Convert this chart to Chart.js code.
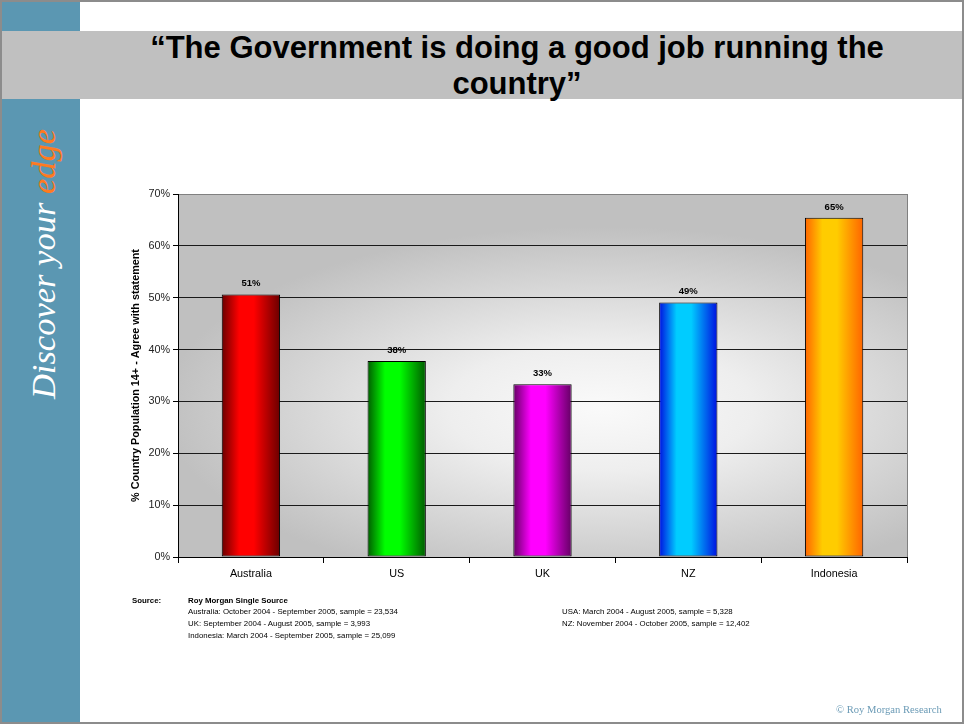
<!DOCTYPE html>
<html>
<head>
<meta charset="utf-8">
<script src="https://cdn.jsdelivr.net/npm/chart.js@4"></script>
<style>
  html, body { margin: 0; padding: 0; background: #fff; }
  #page {
    position: relative; width: 964px; height: 724px; overflow: hidden;
    box-sizing: border-box; border: 2px solid #8c8c8c; background: #fff;
    font-family: 'Liberation Sans', Arial, sans-serif;
  }
  #sidebar { position: absolute; left: 0; top: 0; width: 78px; height: 100%; background: #5b97b2; }
  #tagline {
    position: absolute; left: 41px; top: 262px; white-space: nowrap;
    transform: translate(-50%, -50%) rotate(-90deg);
    font-family: 'Liberation Serif', 'Times New Roman', serif; font-style: italic;
    font-size: 34.5px; color: #fff;
  }
  #tagline span { color: #ff7a21; }
  #band {
    position: absolute; left: 0; top: 29px; width: 100%; height: 68px; background: #c0c0c0;
  }
  #title {
    position: absolute; left: 78px; right: 8px; top: 28px; text-align center;
    text-align: center; font-weight: bold; font-size: 31px; line-height: 36px; color: #000;
  }
  canvas { position: absolute; left: -2px; top: -2px; }
  .src { position: absolute; font-size: 7.85px; color: #000; white-space: nowrap; line-height: 10px; }
  .b { font-weight: bold; }
  #copy {
    position: absolute; left: 834px; top: 702px; font-family: 'Liberation Serif', 'Times New Roman', serif;
    font-size: 10.6px; color: #6b9bb6; white-space: nowrap;
  }
</style>
</head>
<body>
<div id="page">
  <div id="sidebar"></div>
  <div id="tagline">Discover your <span>edge</span></div>
  <div id="band"></div>
  <div id="title">“The Government is doing a good job running the<br>country”</div>
  <canvas id="govChart" width="964" height="724"></canvas>

  <div class="src b" style="left:130px; top:594px;">Source:</div>
  <div class="src b" style="left:186px; top:594px;">Roy Morgan Single Source</div>
  <div class="src" style="left:186px; top:605px;">Australia: October 2004 - September 2005, sample = 23,534</div>
  <div class="src" style="left:186px; top:617px;">UK: September 2004 - August 2005, sample = 3,993</div>
  <div class="src" style="left:186px; top:629px;">Indonesia: March 2004 - September 2005, sample = 25,099</div>
  <div class="src" style="left:560px; top:605px;">USA: March 2004 - August 2005, sample = 5,328</div>
  <div class="src" style="left:560px; top:617px;">NZ: November 2004 - October 2005, sample = 12,402</div>

  <div id="copy">© Roy Morgan Research</div>
</div>

<script>
const categories = ['Australia', 'US', 'UK', 'NZ', 'Indonesia'];
const agreeShare = [50.6, 37.8, 33.3, 49.1, 65.4];
const yTickLabels = ['0%', '10%', '20%', '30%', '40%', '50%', '60%', '70%'];

// each bar is shaded dark edge -> bright core -> dark edge
const barEdge = ['#6a0000', '#005c00', '#640064', '#0010e0', '#ff6400'];
const barCore = ['#ff0000', '#00ff00', '#ff00ff', '#00ccff', '#ffcc00'];

const FONT = "'Liberation Sans', Arial, sans-serif";
const BAR_FRACTION = 0.4;

function barFill(ctx) {
  const chart = ctx.chart;
  const i = ctx.dataIndex;
  const xs = chart.scales.x;
  if (!chart.chartArea || !xs || i === undefined) return barCore[i] || '#888';
  const cx = xs.getPixelForValue(i);
  const half = (xs.width / categories.length) * BAR_FRACTION / 2;
  const g = chart.ctx.createLinearGradient(cx - half, 0, cx + half, 0);
  g.addColorStop(0, barEdge[i]);
  g.addColorStop(0.3, barCore[i]);
  g.addColorStop(0.55, barCore[i]);
  g.addColorStop(1, barEdge[i]);
  return g;
}

// soft radial wash behind the plot, grey towards the edges
const plotBackdrop = {
  id: 'plotBackdrop',
  beforeDraw(chart) {
    const { ctx, chartArea: a } = chart;
    const w = a.right - a.left, h = a.bottom - a.top;
    const cx = a.left + w * 0.58, cy = a.top + h * 0.59;
    const rx = w * 0.6, ry = h * 0.5;
    const sy = ry / rx;
    ctx.save();
    ctx.fillStyle = '#c0c0c0';
    ctx.fillRect(a.left, a.top, w, h);
    ctx.beginPath();
    ctx.rect(a.left, a.top, w, h);
    ctx.clip();
    ctx.translate(cx, cy);
    ctx.scale(1, sy);
    const g = ctx.createRadialGradient(0, 0, 0, 0, 0, rx);
    g.addColorStop(0, '#fafafa');
    g.addColorStop(0.35, '#eeeeee');
    g.addColorStop(1, '#c0c0c0');
    ctx.fillStyle = g;
    ctx.fillRect(a.left - cx, (a.top - cy) / sy, w, h / sy);
    ctx.restore();
    ctx.save();
    ctx.strokeStyle = '#808080';
    ctx.lineWidth = 1;
    ctx.strokeRect(a.left + 0.5, a.top + 0.5, w, h);
    ctx.restore();
  }
};

const valueLabels = {
  id: 'valueLabels',
  afterDatasetsDraw(chart) {
    const { ctx } = chart;
    const meta = chart.getDatasetMeta(0);
    ctx.save();
    ctx.font = 'bold 9.5px ' + FONT;
    ctx.fillStyle = '#000';
    ctx.textAlign = 'center';
    ctx.textBaseline = 'bottom';
    meta.data.forEach((bar, i) => {
      ctx.fillText(Math.round(agreeShare[i]) + '%', bar.x, bar.y - 6);
    });
    ctx.restore();
  }
};

new Chart(document.getElementById('govChart'), {
  type: 'bar',
  data: {
    labels: categories,
    datasets: [{
      data: agreeShare,
      backgroundColor: barFill,
      borderColor: '#000',
      borderWidth: 1,
      borderSkipped: false,
      barPercentage: BAR_FRACTION,
      categoryPercentage: 1
    }]
  },
  options: {
    responsive: false,
    animation: false,
    layout: { padding: { left: 130, top: 194, right: 57, bottom: 137 } },
    plugins: { legend: { display: false }, tooltip: { enabled: false }, title: { display: false } },
    scales: {
      x: {
        afterFit: (s) => { s.height = 30; },
        grid: { offset: true, drawOnChartArea: false, drawTicks: true, tickLength: 6, color: '#000' },
        border: { display: true, color: '#000', width: 1 },
        ticks: { font: { family: FONT, size: 10.8 }, color: '#000', padding: 5 }
      },
      y: {
        min: 0, max: 70,
        afterFit: (s) => { s.width = 48; },
        grid: {
          color: (c) => (c.tick && c.tick.value === 70 ? '#808080' : '#1a1a1a'),
          tickColor: '#000',
          tickLength: 5
        },
        border: { display: true, color: '#000', width: 1 },
        ticks: {
          stepSize: 10,
          font: { family: FONT, size: 10.8 },
          color: '#222',
          padding: 3,
          callback: (v, i) => yTickLabels[i]
        },
        title: {
          display: true,
          text: '% Country Population 14+ - Agree with statement',
          font: { family: FONT, size: 10.8, weight: 'bold' },
          color: '#000',
          padding: { top: 0, bottom: 2 }
        }
      }
    }
  },
  plugins: [plotBackdrop, valueLabels]
});
</script>
</body>
</html>
